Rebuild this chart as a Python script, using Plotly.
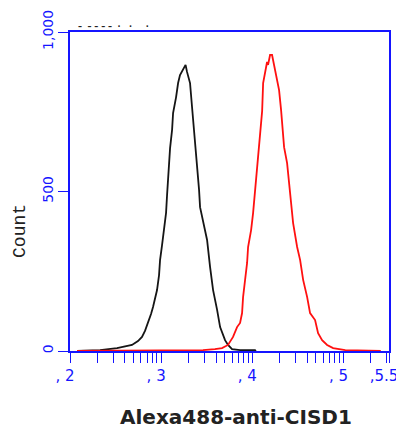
import plotly.graph_objects as go

# ---- data (log10 intensity, count) ----
black_log = [2.077, 2.33, 2.516, 2.60, 2.68, 2.746, 2.79, 2.823, 2.856, 2.889, 2.911, 2.933,
             2.955, 2.977, 2.988, 3.010, 3.021, 3.043, 3.054, 3.065, 3.076, 3.098, 3.120,
             3.131, 3.164, 3.186, 3.207, 3.229, 3.251, 3.268, 3.284, 3.295, 3.317, 3.339,
             3.361, 3.383, 3.405, 3.416, 3.427, 3.460, 3.504, 3.537, 3.570, 3.614, 3.647,
             3.701, 3.734, 3.778, 3.866, 4.03, 4.04]
black_count = [0, 3, 9, 13, 19, 31, 44, 63, 88, 116, 138, 163,
               191, 238, 285, 332, 357, 404, 433, 489, 552, 636, 693,
               746, 796, 840, 865, 875, 887, 897, 875, 865, 840, 765,
               693, 630, 545, 505, 451, 411, 348, 263, 191, 129, 75,
               34, 19, 6, 3, 3, 0]

red_log = [2.077, 2.878, 3.46, 3.59, 3.668, 3.734, 3.789, 3.833, 3.866, 3.888, 3.899, 3.921,
           3.943, 3.954, 3.987, 4.009, 4.031, 4.042, 4.064, 4.086, 4.108, 4.119, 4.141,
           4.162, 4.173, 4.195, 4.217, 4.228, 4.250, 4.272, 4.294, 4.316, 4.338, 4.349,
           4.382, 4.404, 4.415, 4.448, 4.492, 4.525, 4.558, 4.602, 4.634, 4.689, 4.722,
           4.766, 4.821, 4.887, 5.02, 5.40, 5.41]
red_count = [0, 2, 3, 6, 9, 19, 44, 75, 88, 119, 169, 223,
             276, 326, 379, 433, 502, 555, 627, 680, 752, 840, 881,
             906, 897, 928, 928, 912, 881, 850, 818, 755, 693, 639,
             589, 527, 473, 401, 326, 285, 223, 169, 119, 97, 56,
             34, 19, 9, 3, 2, 0]

x_tickvals_log = [2, 3, 4, 5, 5.5]
x_ticktext = [", 2", ", 3", ", 4", ", 5", ",5.5"]
y_tickvals = [0, 500, 1000]
y_ticktext = ["0", "500", "1,000"]

BLUE = "#1515ff"

fig = go.Figure()
fig.add_trace(go.Scatter(x=[10 ** v for v in black_log], y=black_count, mode="lines",
                         line=dict(color="#151515", width=1.8), showlegend=False))
fig.add_trace(go.Scatter(x=[10 ** v for v in red_log], y=red_count, mode="lines",
                         line=dict(color="#ff1010", width=1.8), showlegend=False))

fig.update_layout(
    width=396, height=422,
    margin=dict(l=62, r=15, t=24, b=79),
    paper_bgcolor="white", plot_bgcolor="white",
    xaxis=dict(type="log", range=[2, 5.5], showgrid=False, zeroline=False,
               automargin=False,
               showline=True, linecolor=BLUE, linewidth=1.5, mirror=True,
               layer="below traces",
               ticks="outside", ticklen=10, tickwidth=1.3, tickcolor=BLUE,
               tickvals=[10 ** v for v in x_tickvals_log], ticktext=x_ticktext,
               tickfont=dict(family="DejaVu Sans", size=15, color=BLUE),
               ticklabelshift=-5,
               minor=dict(dtick="D1", ticks="outside", ticklen=10, tickwidth=1.3,
                          tickcolor=BLUE, showgrid=False)),
    yaxis=dict(range=[0, 1000], showgrid=False, zeroline=False,
               automargin=False,
               showline=True, linecolor=BLUE, linewidth=1.5, mirror=True,
               layer="below traces",
               ticks="outside", ticklen=10, tickwidth=1.3, tickcolor=BLUE,
               tickvals=y_tickvals, ticktext=y_ticktext, tickangle=-90,
               tickfont=dict(family="DejaVu Sans", size=14, color=BLUE)),
    annotations=[
        dict(text="Count", xref="paper", yref="paper", x=-0.157, y=0.376,
             xanchor="center", yanchor="middle",
             textangle=-90, showarrow=False,
             font=dict(family="Liberation Mono", size=18, color="#222222")),
        dict(text="<b>Alexa488-anti-CISD1</b>", xref="paper", yref="paper",
             x=0.52, y=-0.207, xanchor="center", yanchor="middle", showarrow=False,
             font=dict(family="DejaVu Sans", size=20, color="#222222")),
        dict(text="<b>–  – – – –  ·   ·     ·</b>", xref="paper", yref="paper",
             x=0.135, y=1.016, xanchor="center", yanchor="middle", showarrow=False,
             font=dict(family="DejaVu Sans", size=8, color="#222222")),
    ],
)

fig.write_html("out.html")
